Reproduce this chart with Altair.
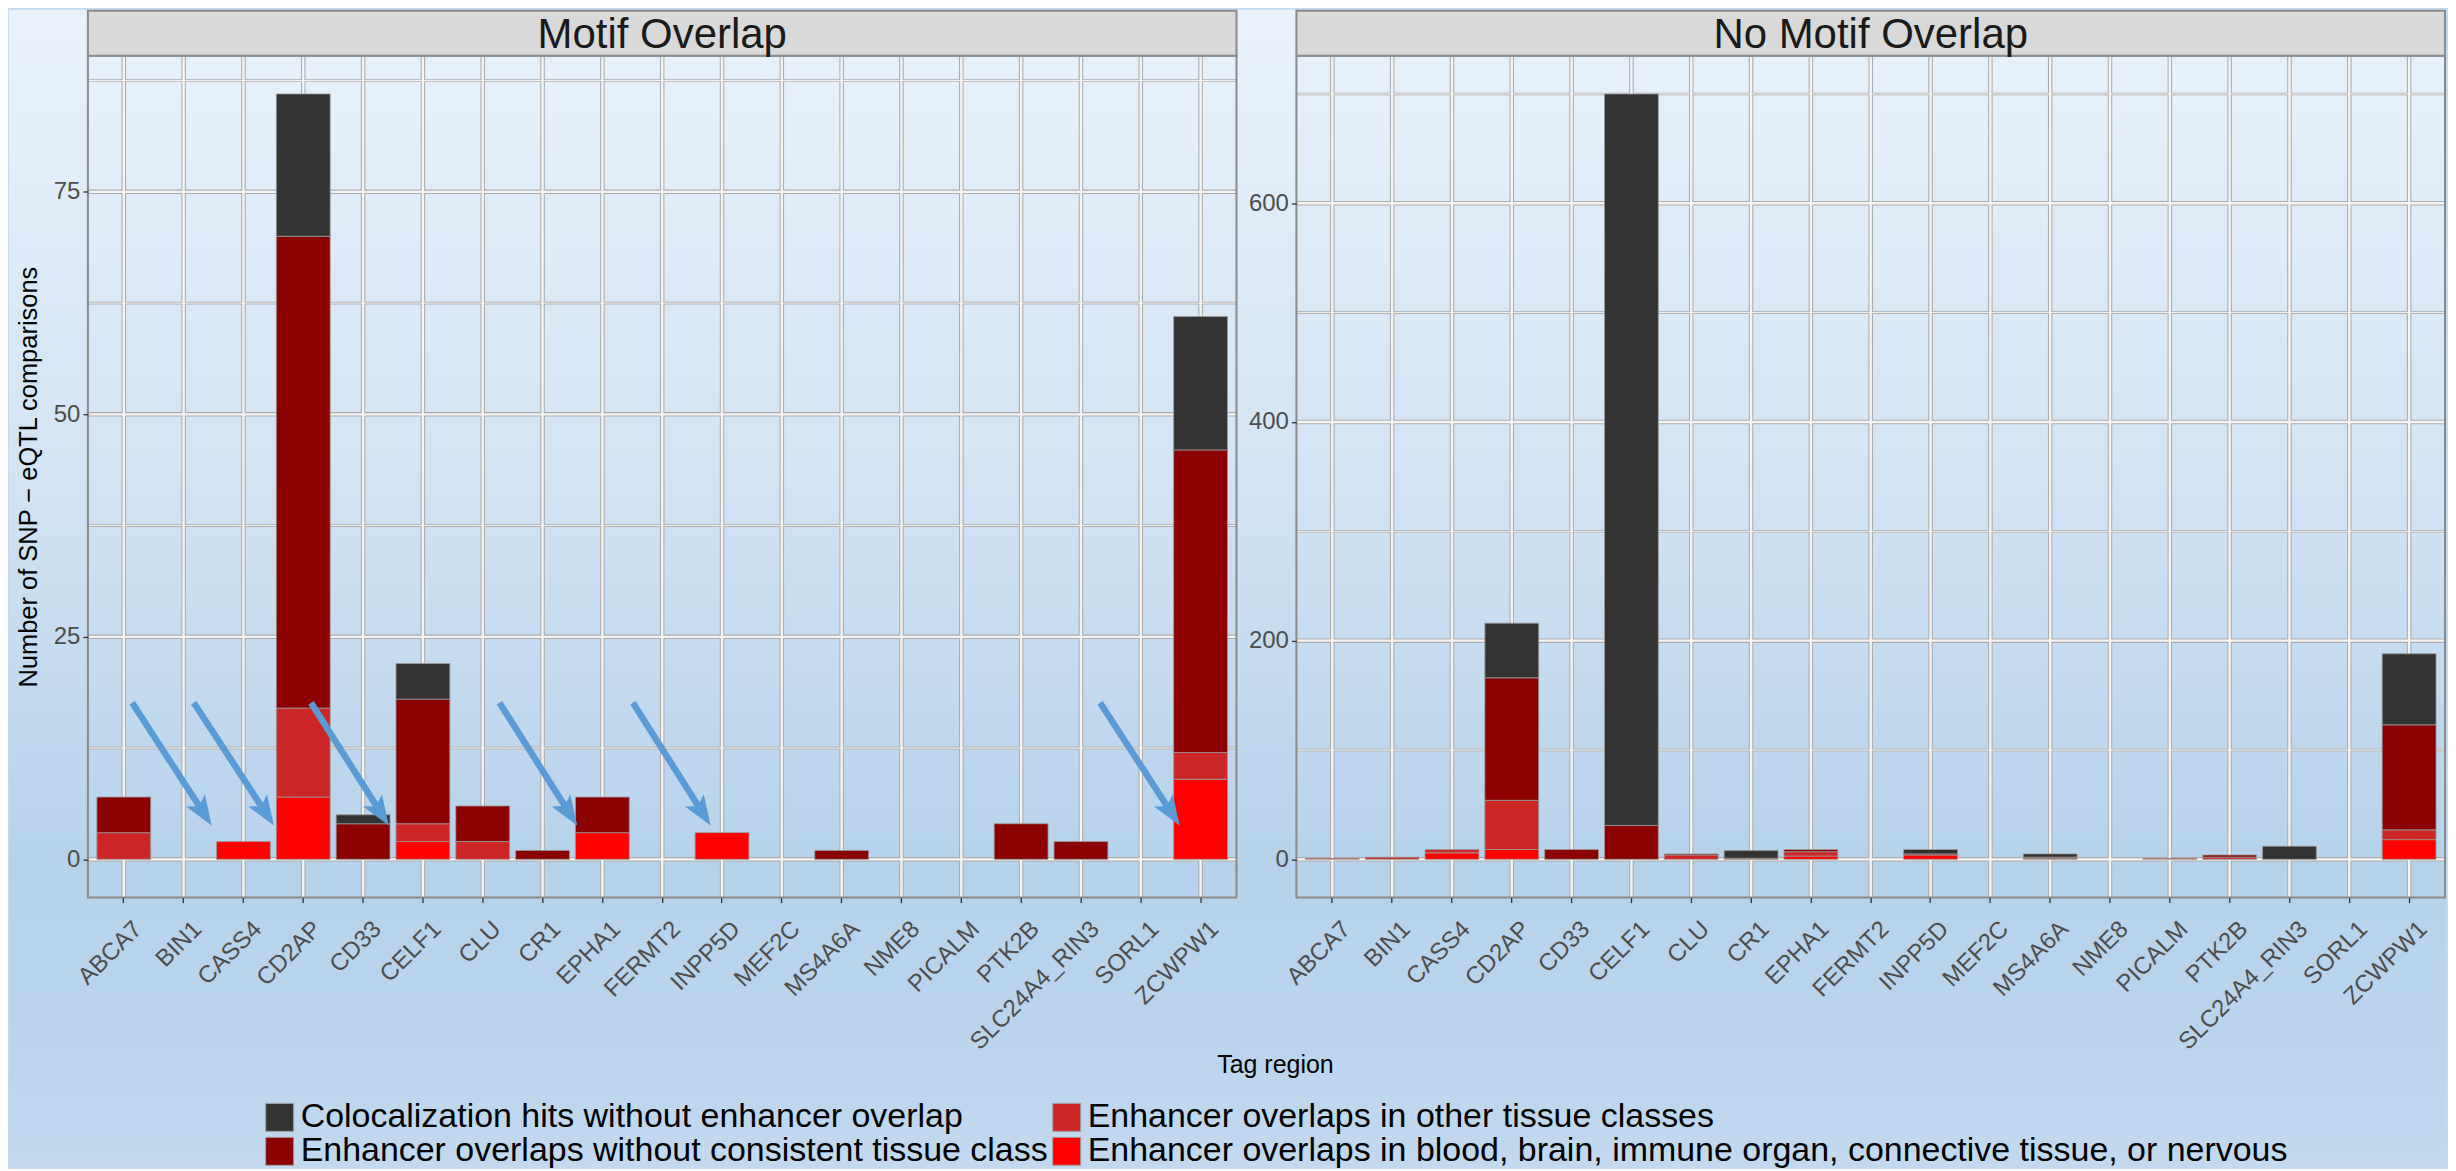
import altair as alt
import pandas as pd

# ---------------- data ----------------
genes = ["ABCA7", "BIN1", "CASS4", "CD2AP", "CD33", "CELF1", "CLU", "CR1", "EPHA1",
         "FERMT2", "INPP5D", "MEF2C", "MS4A6A", "NME8", "PICALM", "PTK2B",
         "SLC24A4_RIN3", "SORL1", "ZCWPW1"]

cat_coloc = "Colocalization hits without enhancer overlap"
cat_nocons = "Enhancer overlaps without consistent tissue class"
cat_other = "Enhancer overlaps in other tissue classes"
cat_blood = "Enhancer overlaps in blood, brain, immune organ, connective tissue, or nervous"

# Panel "Motif Overlap"
motif_blood = [0, 0, 2, 7, 0, 2, 0, 0, 3, 0, 3, 0, 0, 0, 0, 0, 0, 0, 9]
motif_other = [3, 0, 0, 10, 0, 2, 2, 0, 0, 0, 0, 0, 0, 0, 0, 0, 0, 0, 3]
motif_nocons = [4, 0, 0, 53, 4, 14, 4, 1, 4, 0, 0, 0, 1, 0, 0, 4, 2, 0, 34]
motif_coloc = [0, 0, 0, 16, 1, 4, 0, 0, 0, 0, 0, 0, 0, 0, 0, 0, 0, 0, 15]

# Panel "No Motif Overlap"
nomotif_blood = [0, 0, 6, 9, 0, 0, 0, 0, 3, 0, 4, 0, 0, 0, 0, 0, 0, 0, 18]
nomotif_other = [1, 2, 3, 45, 0, 0, 4, 0, 4, 0, 0, 0, 1, 0, 1, 2, 0, 0, 9]
nomotif_nocons = [0, 0, 0, 112, 9, 31, 1, 1, 2, 0, 1, 0, 1, 0, 0, 2, 0, 0, 96]
nomotif_coloc = [0, 0, 0, 50, 0, 669, 0, 7, 0, 0, 4, 0, 3, 0, 0, 0, 12, 0, 65]

motif_major = [0, 25, 50, 75]
motif_minor = [12.5, 37.5, 62.5, 87.5]
nomotif_major = [0, 200, 400, 600]
nomotif_minor = [100, 300, 500, 700]

# legend (filled column-wise in 2 columns, like the reference)
legend_order = [cat_coloc, cat_nocons, cat_other, cat_blood]
legend_colors = ["#333333", "#8B0000", "#CD2626", "#FF0000"]
stack_rank = {cat_blood: 0, cat_other: 1, cat_nocons: 2, cat_coloc: 3}

# annotation arrows (x in category-index units, y in data units)
arrow_x_start = [0.14, 1.17, 3.13, 6.28, 8.51, 16.32]
arrow_x_end = [1.47, 2.51, 4.43, 7.58, 9.81, 17.65]
arrow_y_start = [17.6, 17.6, 17.6, 17.6, 17.6, 17.6]
arrow_y_end = [3.8, 3.8, 3.8, 3.8, 3.8, 3.8]

# ---------------- layout / style ----------------
W, H = 1150, 843
GAP = 60
FONT = "Liberation Sans"
GRID_OUT = "#ababab"
GRID_IN = "#f5f5f5"
BORDER = "#8a8a8a"
ARROW_COLOR = "#5b9bd5"
ARROW_SHAPE = "M0,0L0.75,2L0,1.55L-0.75,2Z"

bg_gradient = alt.LinearGradient(
    gradient="linear", x1=0, x2=0, y1=0, y2=1,
    stops=[alt.GradientStop(color="#e9f2fb", offset=0),
           alt.GradientStop(color="#d3e4f4", offset=0.4),
           alt.GradientStop(color="#b6d2eb", offset=0.74),
           alt.GradientStop(color="#bad4ed", offset=0.88),
           alt.GradientStop(color="#c2d9ef", offset=1)])

legend = alt.Legend(
    orient="none", legendX=175, legendY=999, columns=2,
    title="Tag region", titleAnchor="middle", titleOrient="top",
    titleFontSize=25, titleFontWeight="normal", titleColor="black", titlePadding=22,
    labelFontSize=34, labelColor="black", labelLimit=3000, labelOffset=4,
    symbolType="square", symbolSize=784, symbolStrokeWidth=1,
    symbolStrokeColor="#a0a0a0", symbolOpacity=1,
    rowPadding=-6, columnPadding=1, padding=0, zindex=1)


def long_table(series):
    rows = []
    for cat, vals in series:
        for g, v in zip(genes, vals):
            if v > 0:
                rows.append({"gene": g, "category": cat, "value": v,
                             "rank": stack_rank[cat]})
    return pd.DataFrame(rows)


def panel(series, strip_title, major, minor, y_title, with_bg, with_arrows):
    df = long_table(series)
    top = df.groupby("gene")["value"].sum().max()
    ysc = alt.Scale(domain=[-0.05 * top, 1.05 * top], nice=False, zero=False)
    xsc = alt.Scale(type="band", domain=genes, paddingInner=0.1, paddingOuter=0.15)
    one = pd.DataFrame({"t": [strip_title]})
    gdf = pd.DataFrame({"gene": genes})
    major_df = pd.DataFrame({"v": major})
    minor_df = pd.DataFrame({"v": minor})

    xaxis = alt.Axis(title=None, orient="bottom", labelAngle=-45, labelAlign="right",
                     labelBaseline="top", labelFontSize=24, labelColor="#4d4d4d",
                     labelPadding=14, labelOffset=6, tickSize=5, tickColor="#333333",
                     tickWidth=1.3, domain=False, grid=False, zindex=1)
    yaxis_kw = dict(values=major, tickSize=5, tickColor="#333333", tickWidth=1.3,
                    labelFontSize=24, labelColor="#4d4d4d", labelPadding=3,
                    domain=False, grid=False, zindex=1)
    if y_title:
        yaxis = alt.Axis(title=y_title, titleFontSize=25.5, titleFontWeight="normal",
                         titleColor="black", titlePadding=12, **yaxis_kw)
    else:
        yaxis = alt.Axis(title=None, **yaxis_kw)

    layers = []
    if with_bg:
        layers.append(alt.Chart(one).mark_rect(fill=bg_gradient, strokeWidth=0).encode(
            x=alt.value(-79), x2=alt.value(2361), y=alt.value(-46), y2=alt.value(1109)))

    def hrule(d, col, w):
        return alt.Chart(d).mark_rule(color=col, strokeWidth=w).encode(
            y=alt.Y("v:Q", scale=ysc, axis=yaxis))

    def vrule(col, w):
        return alt.Chart(gdf).mark_rule(color=col, strokeWidth=w).encode(
            x=alt.X("gene:N", scale=xsc, axis=xaxis, bandPosition=0.5))

    layers += [hrule(minor_df, GRID_OUT, 2.6), hrule(major_df, GRID_OUT, 4.5), vrule(GRID_OUT, 4.5),
               hrule(minor_df, GRID_IN, 1.0), hrule(major_df, GRID_IN, 2.4), vrule(GRID_IN, 2.4)]

    bars = alt.Chart(df).mark_bar(stroke="#9a9a9a", strokeWidth=1, strokeOpacity=0.8).encode(
        x=alt.X("gene:N", scale=xsc, axis=xaxis),
        y=alt.Y("value:Q", stack="zero", scale=ysc, axis=yaxis),
        color=alt.Color("category:N",
                        scale=alt.Scale(domain=legend_order, range=legend_colors),
                        legend=legend),
        order=alt.Order("rank:Q", sort="ascending"))
    layers.append(bars)

    # panel border and facet strip
    layers.append(alt.Chart(one).mark_rect(fillOpacity=0, stroke=BORDER, strokeWidth=2).encode(
        x=alt.value(0), x2=alt.value(W), y=alt.value(0), y2=alt.value(H)))
    layers.append(alt.Chart(one).mark_rect(fill="#d9d9d9", stroke=BORDER, strokeWidth=2).encode(
        x=alt.value(0), x2=alt.value(W), y=alt.value(-45), y2=alt.value(0)))
    layers.append(alt.Chart(one).mark_text(fontSize=42, color="#1a1a1a", align="center",
                                           baseline="middle").encode(
        x=alt.value(W / 2), y=alt.value(-21), text="t:N"))

    inner = alt.layer(*layers)
    if not with_arrows:
        return inner.properties(width=W, height=H)

    adf = pd.DataFrame({"x0": arrow_x_start, "x1": arrow_x_end,
                        "y0": arrow_y_start, "y1": arrow_y_end})
    xq = alt.Scale(domain=[-0.6, len(genes) - 0.4], nice=False, zero=False)
    shaft = alt.Chart(adf).transform_calculate(
        xe="datum.x1 - 0.13*(datum.x1 - datum.x0)",
        ye="datum.y1 - 0.13*(datum.y1 - datum.y0)"
    ).mark_rule(color=ARROW_COLOR, strokeWidth=6.5).encode(
        x=alt.X("x0:Q", scale=xq, axis=None),
        y=alt.Y("y0:Q", scale=ysc, axis=yaxis),
        x2="xe:Q", y2="ye:Q")
    head = alt.Chart(adf).mark_point(shape=ARROW_SHAPE, filled=True, size=900, angle=147,
                                     color=ARROW_COLOR, opacity=1, strokeWidth=0).encode(
        x=alt.X("x1:Q", scale=xq, axis=None),
        y=alt.Y("y1:Q", scale=ysc, axis=yaxis))
    arrows = alt.layer(shaft, head)
    return alt.layer(inner, arrows).resolve_scale(x="independent").properties(width=W, height=H)


left = panel([(cat_blood, motif_blood), (cat_other, motif_other),
              (cat_nocons, motif_nocons), (cat_coloc, motif_coloc)],
             "Motif Overlap", motif_major, motif_minor,
             "Number of SNP \u2212 eQTL comparisons", True, True)
right = panel([(cat_blood, nomotif_blood), (cat_other, nomotif_other),
               (cat_nocons, nomotif_nocons), (cat_coloc, nomotif_coloc)],
              "No Motif Overlap", nomotif_major, nomotif_minor, None, False, False)

chart = alt.hconcat(left, right, spacing=GAP, bounds="flush").properties(
    padding=0, background="#c2d9ef"
).configure(font=FONT).configure_view(stroke="transparent")

chart.save("out.html", embed_options={"renderer": "svg", "actions": False})
